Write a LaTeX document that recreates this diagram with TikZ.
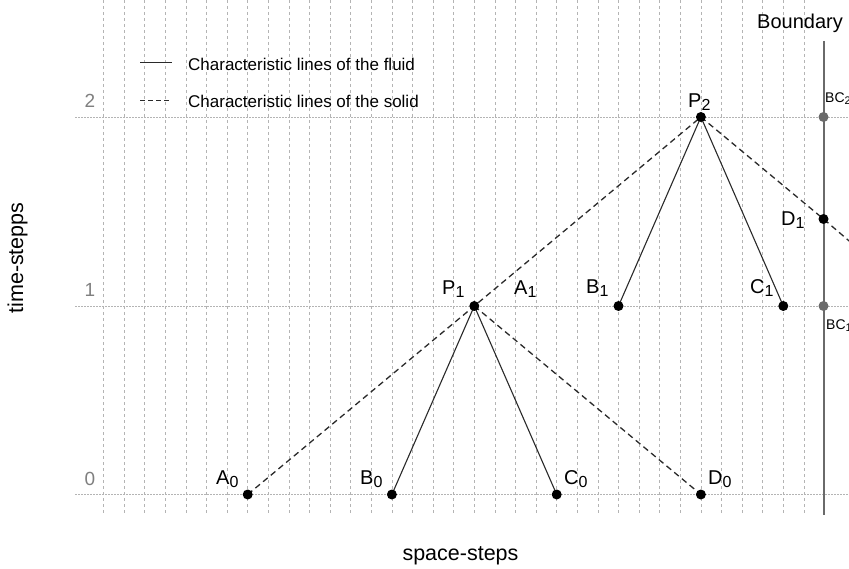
\documentclass[tikz,border=0pt]{standalone}
\usepackage{fontspec}
\setmainfont{Liberation Sans}
\definecolor{gridc}{HTML}{B4B4B4}
\definecolor{tickc}{HTML}{7F7F7F}
\definecolor{bndc}{HTML}{6A6A6A}
\definecolor{linec}{HTML}{2A2A2A}
\newcommand{\lbl}[2]{{\fontsize{20}{24}\selectfont #1}\raisebox{-3pt}{\fontsize{16}{18}\selectfont #2}}
\tikzset{
  vgrid/.style={gridc, line width=0.8pt, dash pattern=on 3pt off 3pt},
  hgrid/.style={gridc, line width=0.9pt, dash pattern=on 1.5pt off 1.5pt},
  fluid/.style={linec, line width=1.1pt},
  solid-char/.style={linec, line width=1.3pt, dash pattern=on 6pt off 4pt},
  dotb/.style={circle, fill=black, inner sep=0pt, minimum size=10pt},
  dotg/.style={circle, fill=bndc, inner sep=0pt, minimum size=10pt},
  ptlabel/.style={anchor=base west, inner sep=0pt, text=black},
  ticklbl/.style={anchor=base, inner sep=0pt, text=tickc, font=\fontsize{19}{22}\selectfont},
  axlbl/.style={inner sep=0pt, font=\fontsize{21.5}{25}\selectfont},
  legtext/.style={anchor=base west, inner sep=0pt, font=\fontsize{17}{20}\selectfont},
}
\begin{document}
\begin{tikzpicture}[x=1pt, y=-1pt]
\useasboundingbox (0,0) rectangle (849,569);
\clip (0,0) rectangle (849,569);
% grid
\foreach \i in {-7,...,27} {
  \draw[vgrid] ({247.7+20.6*\i},0) -- ({247.7+20.6*\i},513);
}
\foreach \yy in {494.5,306,117} {
  \draw[hgrid] (75,\yy) -- (849,\yy);
}
% coordinates
\coordinate (A0) at (247.7,494.5);
\coordinate (B0) at (391.9,494.5);
\coordinate (C0) at (556.7,494.5);
\coordinate (D0) at (700.9,494.5);
\coordinate (P1) at (474.3,306);
\coordinate (B1) at (618.5,306);
\coordinate (C1) at (783.3,306);
\coordinate (BC1) at (823.5,306);
\coordinate (P2) at (700.9,117);
\coordinate (BC2) at (823.5,117);
\coordinate (D1) at (823.5,219);
\coordinate (Eend) at (860,250.3);
\coordinate (Btop) at (823.5,41);
\coordinate (Bbot) at (823.5,515);
% boundary
\draw[bndc, line width=2pt] (Btop) -- (Bbot);
% characteristic lines
\draw[fluid] (B0) -- (P1) -- (C0);
\draw[fluid] (B1) -- (P2) -- (C1);
\draw[solid-char] (A0) -- (P1) -- (P2);
\draw[solid-char] (P1) -- (D0);
\draw[solid-char] (P2) -- (D1) -- (Eend);
% dots
\foreach \p in {A0,B0,C0,D0,P1,B1,C1,P2,D1} { \node[dotb] at (\p) {}; }
\node[dotg] (bc1dot) at (BC1) {};
\node[dotg] (bc2dot) at (BC2) {};
% point labels
\node[ptlabel] (lA0) at (216,484) {\lbl{A}{0}};
\node[ptlabel] (lB0) at (360,484) {\lbl{B}{0}};
\node[ptlabel] (lC0) at (564,484) {\lbl{C}{0}};
\node[ptlabel] (lD0) at (708,484) {\lbl{D}{0}};
\node[ptlabel] (lP1) at (442,295) {\lbl{P}{1}};
\node[ptlabel] (lA1) at (514,295) {\lbl{A}{1}};
\node[ptlabel] (lB1) at (586,294) {\lbl{B}{1}};
\node[ptlabel] (lC1) at (750,294) {\lbl{C}{1}};
\node[ptlabel] (lD1) at (781,226) {\lbl{D}{1}};
\node[ptlabel] (lP2) at (688,108) {\lbl{P}{2}};
\node[ptlabel, font=\fontsize{20}{24}\selectfont] (lbnd) at (757,29) {Boundary};
\node[ptlabel] (lBC2) at (825,103) {{\fontsize{14}{16}\selectfont BC}\raisebox{-2pt}{\fontsize{11}{13}\selectfont 2}};
\node[ptlabel] (lBC1) at (826,330) {{\fontsize{14}{16}\selectfont BC}\raisebox{-2pt}{\fontsize{11}{13}\selectfont 1}};
% ticks
\node[ticklbl] (t0) at (90,485) {0};
\node[ticklbl] (t1) at (90,297) {1};
\node[ticklbl] (t2) at (90,108) {2};
% axis labels
\node[axlbl, rotate=90] (ylab) at (17.5,258) {time-stepps};
\node[axlbl, anchor=base] (xlab) at (460.5,560) {space-steps};
% legend
\coordinate (L1a) at (140,62.7);
\coordinate (L1b) at (172,62.7);
\coordinate (L2a) at (140,100.5);
\coordinate (L2b) at (172,100.5);
\draw[fluid] (L1a) -- (L1b);
\draw[solid-char, dash pattern=on 4.5pt off 3.5pt, line width=1pt] (L2a) -- (L2b);
\node[legtext] (leg1) at (188,71) {Characteristic lines of the fluid};
\node[legtext] (leg2) at (188,108) {Characteristic lines of the solid};
\end{tikzpicture}
\end{document}
